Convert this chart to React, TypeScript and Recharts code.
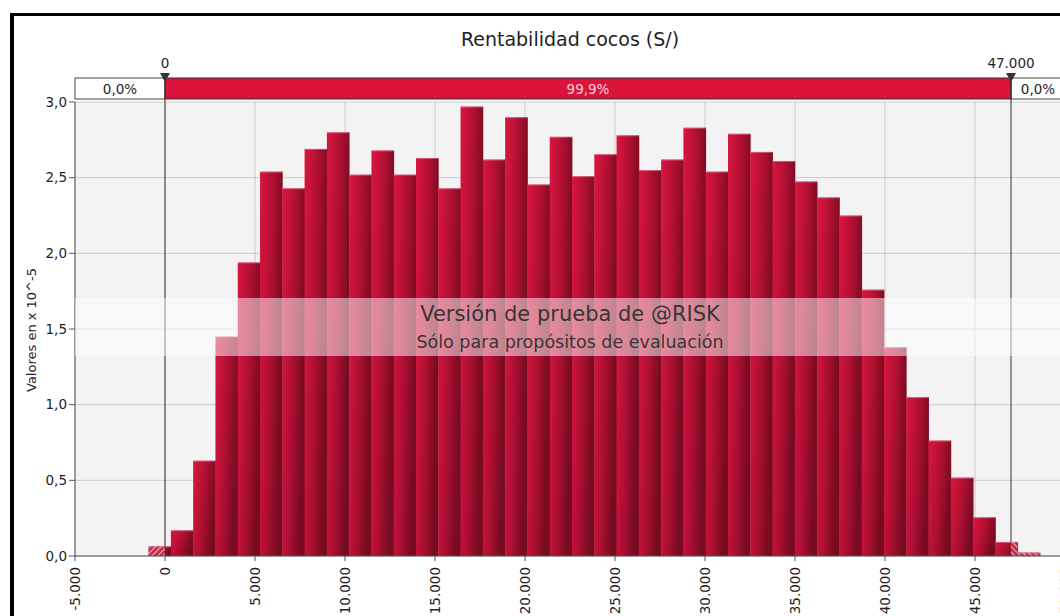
import React from "react";
import { ComposedChart, Bar, XAxis, YAxis, CartesianGrid, ReferenceArea } from "recharts";

// histogram: 40 bins, values in units of 10^-5
const BIN_START = -905;
const BIN_WIDTH = 1238;
const DENSITY = [
  0.064, 0.17, 0.63, 1.45, 1.94, 2.54, 2.43, 2.69, 2.8, 2.52,
  2.68, 2.52, 2.63, 2.43, 2.97, 2.62, 2.9, 2.455, 2.77, 2.51,
  2.655, 2.78, 2.55, 2.62, 2.83, 2.54, 2.79, 2.67, 2.61, 2.475,
  2.37, 2.25, 1.76, 1.38, 1.05, 0.763, 0.518, 0.256, 0.093, 0.022,
];
const X_TICKS = [-5000, 0, 5000, 10000, 15000, 20000, 25000, 30000, 35000, 40000, 45000, 50000];
const Y_TICKS = [0, 0.5, 1, 1.5, 2, 2.5, 3];
const DELIMITERS = [0, 47000];
const DELIM_PCT = ["0,0%", "99,9%", "0,0%"];
const TITLE = "Rentabilidad cocos (S/)";
const Y_LABEL = "Valores en x 10^-5";
const WATERMARK = ["Versión de prueba de @RISK", "Sólo para propósitos de evaluación"];

const X_MIN = -5000;
const X_MAX = 50000;
const FONT = "'DejaVu Sans', Verdana, sans-serif";

const W = 1110;
const H = 680;
const MARGIN = { top: 102, right: 45, bottom: 64, left: 15 };
const Y_AXIS_W = 60;
const X_AXIS_H = 60;
const PLOT_W = W - MARGIN.left - MARGIN.right - Y_AXIS_W;
const PX_PER_UNIT = PLOT_W / (X_MAX - X_MIN);
const BAR_PX = BIN_WIDTH * PX_PER_UNIT;

const data = DENSITY.map((v, i) => {
  const lo = BIN_START + i * BIN_WIDTH;
  return { lo, hi: lo + BIN_WIDTH, mid: lo + BIN_WIDTH / 2, v };
});

const fmtX = (v: number) => {
  const s = Math.abs(v).toString().replace(/\B(?=(\d{3})+(?!\d))/g, ".");
  return (v < 0 ? "-" : "") + s;
};
const fmtY = (v: number) => v.toFixed(1).replace(".", ",");

const XTick = (props: any) => {
  const { x, y, payload } = props;
  return (
    <text
      transform={`translate(${x + 5},${y + 6}) rotate(-90)`}
      textAnchor="end"
      fontSize={13.5}
      fontFamily={FONT}
      fill="#1e1e28"
    >
      {fmtX(payload.value)}
    </text>
  );
};

const HistBar = (props: any) => {
  const { x, y, width, height, payload } = props;
  if (!height || height <= 0) return null;
  // bars sit edge to edge: rebuild the bin edges around the bar centre
  const cx = x + width / 2;
  const left = cx - BAR_PX / 2;
  const right = cx + BAR_PX / 2;
  const lowX = left + (DELIMITERS[0] - payload.lo) * PX_PER_UNIT;
  const highX = left + (DELIMITERS[1] - payload.lo) * PX_PER_UNIT;
  return (
    <g>
      <rect x={left} y={y} width={right - left + 0.4} height={height} fill="url(#barGrad)" />
      {lowX > left && (
        <rect x={left} y={y} width={Math.min(lowX, right) - left} height={height} fill="url(#hatchL)" />
      )}
      {highX < right && (
        <rect x={Math.max(highX, left)} y={y} width={right - Math.max(highX, left)} height={height} fill="url(#hatchR)" />
      )}
      <line x1={left} x2={right} y1={y + 0.5} y2={y + 0.5} stroke="#f2a9b9" strokeOpacity={0.45} />
    </g>
  );
};

const SideBox = (label: string) => (props: any) => {
  const { x, y, width } = props;
  return (
    <g>
      <rect x={x} y={y - 24} width={width} height={21} fill="#fff" stroke="#444" strokeWidth={1} />
      <text x={x + width / 2} y={y - 8} textAnchor="middle" fontSize={13.5} fontFamily={FONT} fill="#1e1e28">
        {label}
      </text>
    </g>
  );
};

const CenterBand = (props: any) => {
  const { x, y, width, height } = props;
  const marks = [x, x + width];
  return (
    <g>
      <rect x={x} y={y - 24} width={width} height={21} fill="#dc143c" stroke="#333" strokeWidth={1} />
      <text x={x + width / 2} y={y - 8} textAnchor="middle" fontSize={13.5} fontFamily={FONT} fill="#f7d3db">
        {DELIM_PCT[1]}
      </text>
      {marks.map((mx, i) => (
        <g key={i}>
          <line x1={mx} x2={mx} y1={y - 24} y2={y + height} stroke="#333" strokeWidth={1} />
          <path d={`M${mx - 5},${y - 29} L${mx + 5},${y - 29} L${mx},${y - 20} Z`} fill="#333" />
          <text x={mx} y={y - 34} textAnchor="middle" fontSize={13.5} fontFamily={FONT} fill="#1e1e28">
            {fmtX(DELIMITERS[i])}
          </text>
        </g>
      ))}
    </g>
  );
};

export default function App() {
  return (
    <div
      style={{
        position: "fixed",
        left: 0,
        top: 0,
        width: 1060,
        height: 616,
        overflow: "hidden",
        background: "#fff",
      }}
    >
      <div
        style={{
          position: "absolute",
          left: 10,
          top: 13,
          width: 1200,
          height: 700,
          borderLeft: "4px solid #000",
          borderTop: "3px solid #000",
        }}
      />
      <div style={{ position: "absolute", left: 0, top: 0 }}>
        <ComposedChart width={W} height={H} data={data} margin={MARGIN} barCategoryGap={0} barGap={0}>
          <defs>
            <linearGradient id="barGrad" x1="0" y1="0" x2="1" y2="0.35">
              <stop offset="0" stopColor="#da163f" />
              <stop offset="0.5" stopColor="#b31033" />
              <stop offset="1" stopColor="#760b21" />
            </linearGradient>
            <pattern id="hatchL" width="4" height="4" patternUnits="userSpaceOnUse" patternTransform="rotate(45)">
              <rect width="4" height="4" fill="#c0304f" />
              <line x1="0" y1="0" x2="0" y2="4" stroke="#fff" strokeWidth="1.3" />
            </pattern>
            <pattern id="hatchR" width="4" height="4" patternUnits="userSpaceOnUse" patternTransform="rotate(-45)">
              <rect width="4" height="4" fill="#c0304f" />
              <line x1="0" y1="0" x2="0" y2="4" stroke="#fff" strokeWidth="1.3" />
            </pattern>
          </defs>
          <CartesianGrid fill="#f3f3f3" stroke="#dcdcdc" />
          <XAxis
            dataKey="mid"
            type="number"
            domain={[X_MIN, X_MAX]}
            ticks={X_TICKS}
            interval={0}
            height={X_AXIS_H}
            tickSize={5}
            tickMargin={0}
            tick={<XTick />}
            stroke="#555"
            allowDataOverflow
          />
          <YAxis
            type="number"
            domain={[0, 3]}
            ticks={Y_TICKS}
            interval={0}
            width={Y_AXIS_W}
            tickSize={6}
            tickMargin={2}
            tickFormatter={fmtY}
            tick={{ fontSize: 13.5, fontFamily: FONT, fill: "#1e1e28" }}
            stroke="#555"
          />
          <Bar dataKey="v" barSize={BAR_PX} shape={<HistBar />} isAnimationActive={false} />
          <CartesianGrid stroke="rgba(0,0,0,0.07)" />
          <ReferenceArea x1={X_MIN} x2={DELIMITERS[0]} ifOverflow="visible" shape={SideBox(DELIM_PCT[0])} />
          <ReferenceArea x1={DELIMITERS[1]} x2={X_MAX} ifOverflow="visible" shape={SideBox(DELIM_PCT[2])} />
          <ReferenceArea x1={DELIMITERS[0]} x2={DELIMITERS[1]} ifOverflow="visible" shape={CenterBand} />
        </ComposedChart>
      </div>
      <svg
        width={1060}
        height={616}
        style={{ position: "absolute", left: 0, top: 0, pointerEvents: "none" }}
      >
        <text x={570} y={46} textAnchor="middle" fontSize={19} fontFamily={FONT} fill="#1e1e28">
          {TITLE}
        </text>
        <text
          transform="translate(36,330) rotate(-90)"
          textAnchor="middle"
          fontSize={13}
          fontFamily={FONT}
          fill="#1e1e28"
        >
          {Y_LABEL}
        </text>
        <rect x={75} y={298} width={1000} height={58} fill="#fff" fillOpacity={0.5} />
        <text x={570} y={321} textAnchor="middle" fontSize={21} fontFamily={FONT} fill="#2e2e2e" fillOpacity={0.95}>
          {WATERMARK[0]}
        </text>
        <text x={570} y={348} textAnchor="middle" fontSize={17.5} fontFamily={FONT} fill="#2e2e2e" fillOpacity={0.95}>
          {WATERMARK[1]}
        </text>
      </svg>
    </div>
  );
}
